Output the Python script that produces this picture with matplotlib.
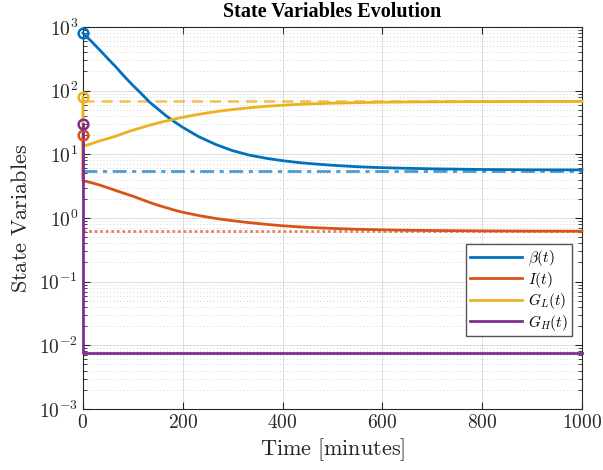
import matplotlib
matplotlib.use("Agg")
import matplotlib.pyplot as plt
from matplotlib.ticker import FixedLocator, NullFormatter

plt.rcParams['mathtext.fontset'] = 'cm'
plt.rcParams['font.family'] = ['cmr10', 'DejaVu Serif']
plt.rcParams['axes.formatter.use_mathtext'] = True

times = [0, 17, 33, 50, 67, 83, 100, 117, 133, 150, 167, 183, 200, 233, 267,
         300, 333, 367, 400, 433, 467, 500, 550, 600, 650, 700, 800, 900, 1000]

beta = [800, 593, 440, 318, 231, 167, 121, 89.7, 66.5, 51.6, 40.1, 32.6, 26.5,
        18.75, 14.2, 11.4, 9.73, 8.67, 7.94, 7.41, 7.03, 6.73, 6.38, 6.17, 6.03,
        5.92, 5.78, 5.71, 5.69]
insulin = [3.86, 3.58, 3.3, 2.98, 2.68, 2.43, 2.2, 1.96, 1.76, 1.59, 1.45, 1.33,
           1.23, 1.09, 0.98, 0.905, 0.845, 0.795, 0.755, 0.725, 0.703, 0.685,
           0.665, 0.652, 0.642, 0.636, 0.627, 0.622, 0.62]
gl = [13.3, 14.7, 16.2, 17.7, 19.4, 21.6, 23.9, 26.2, 28.6, 31.0, 33.4, 35.8,
      38.2, 42.6, 46.9, 50.6, 53.8, 56.7, 59.0, 60.9, 62.4, 63.5, 64.8, 65.8,
      66.4, 66.8, 67.3, 67.6, 67.8]
gh = [0.0076] * len(times)

init_vals = {'beta': 800, 'I': 20, 'GL': 79, 'GH': 30}
steady_beta = 5.55
steady_I = 0.63
steady_GL = 68

x_ticks = [0, 200, 400, 600, 800, 1000]
y_ticks = [1e-3, 1e-2, 1e-1, 1e0, 1e1, 1e2, 1e3]

c_beta = '#0072BD'
c_I = '#D95319'
c_GL = '#EDB120'
c_GH = '#7E2F8E'

fig = plt.figure(figsize=(6.03, 4.70), dpi=100)
ax = fig.add_axes([0.1376, 0.1298, 0.8274, 0.8128])

series = [(beta, init_vals['beta'], c_beta, r'$\beta(t)$'),
          (insulin, init_vals['I'], c_I, r'$I(t)$'),
          (gl, init_vals['GL'], c_GL, r'$G_L(t)$'),
          (gh, init_vals['GH'], c_GH, r'$G_H(t)$')]

lw = 2.0
# steady-state reference lines
ax.plot([0, 1000], [steady_beta] * 2, color=c_beta, lw=lw, ls=(0, (5, 2, 1.5, 2)), alpha=0.7, zorder=2)
ax.plot([0, 1000], [steady_I] * 2, color=c_I, lw=lw, ls=(0, (1, 1)), alpha=0.7, zorder=2)
ax.plot([0, 1000], [steady_GL] * 2, color=c_GL, lw=lw, ls=(0, (4, 2.5)), alpha=0.7, zorder=2)

for vals, v0, col, lab in series:
    ax.plot([0] + times, [v0] + vals, color=col, lw=lw, label=lab, zorder=3,
            solid_joinstyle='round', clip_on=False)
for vals, v0, col, lab in series:
    ax.plot([0], [v0], 'o', mfc='none', mec=col, mew=1.8, ms=7, zorder=5,
            clip_on=False)

ax.set_yscale('log')
ax.set_xlim(0, 1000)
ax.set_ylim(1e-3, 1e3)
ax.set_xticks(x_ticks)
ax.yaxis.set_major_locator(FixedLocator(y_ticks))
minor = [m * d for d in y_ticks[:-1] for m in range(2, 10)]
ax.yaxis.set_minor_locator(FixedLocator(minor))
ax.yaxis.set_minor_formatter(NullFormatter())

ax.grid(True, which='major', color='#dcdcdc', lw=0.7)
ax.grid(True, which='minor', axis='y', color='#c8c8c8', lw=0.6, ls=(0, (1, 3)))
ax.set_axisbelow(True)

ax.tick_params(direction='in', which='both', top=True, right=True, labelsize=14, colors='#262626')
ax.tick_params(which='major', length=5)
ax.tick_params(which='minor', length=3)
for s in ax.spines.values():
    s.set_color('#262626')
    s.set_linewidth(0.8)

ax.set_xlabel(r'$\mathrm{Time\ [minutes]}$', fontsize=16, color='#262626', labelpad=3)
ax.set_ylabel(r'$\mathrm{State\ Variables}$', fontsize=16, color='#262626', labelpad=6)
ax.set_title('State Variables Evolution', fontsize=14.5, fontweight='bold',
             family='Liberation Serif', pad=7)

leg = ax.legend(loc='lower right', bbox_to_anchor=(0.98, 0.19), fontsize=11,
                handlelength=3.4, fancybox=False, framealpha=1,
                edgecolor='#555555', borderpad=0.25, labelspacing=0.1,
                handletextpad=0.4, borderaxespad=0)
leg.get_frame().set_linewidth(1.0)

fig.savefig('out.png', dpi=100)
